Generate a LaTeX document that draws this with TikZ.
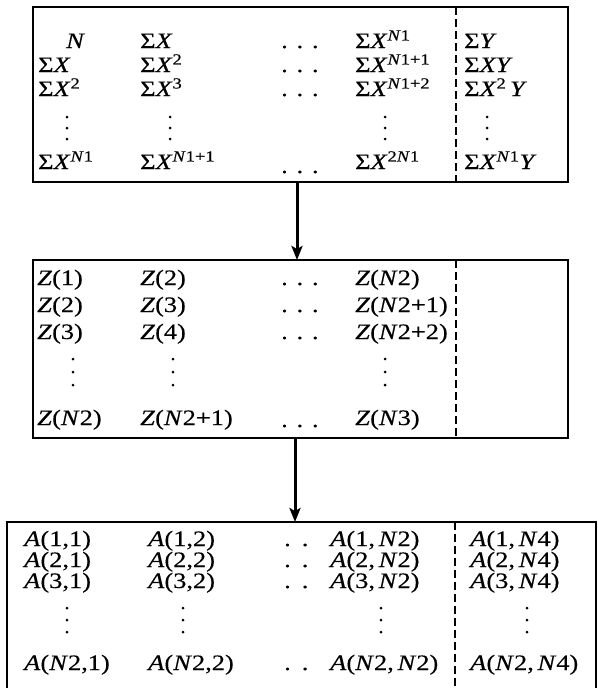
\documentclass[tikz,border=0pt]{standalone}
\usepackage{fontspec}
\setmainfont{Liberation Serif}[FakeStretch=1.2,FakeBold=0.4]
\usetikzlibrary{arrows.meta}
\newcommand{\ix}[1]{\textit{#1}}
\newcommand{\sux}[1]{\textsuperscript{#1}}
\tikzset{
  frame/.style={draw, line width=1.4pt, inner sep=0pt, outer sep=0pt},
  blank/.style={inner sep=0pt, outer sep=0pt},
  sep/.style={line width=1.2pt, dash pattern=on 8pt off 4pt},
  cell/.style={anchor=base west, inner sep=0pt},
  vdot/.style={fill, circle, inner sep=0pt, minimum size=3pt},
  flow/.style={line width=3pt, -{Stealth[length=14pt,width=11pt,inset=3pt]}}
}
\begin{document}
\begin{tikzpicture}[x=1pt,y=-1pt,font=\fontsize{22pt}{26pt}\selectfont]
\useasboundingbox (0,0) rectangle (597,688);
\clip (0,0) rectangle (597,688);
% boxes
\node[frame, minimum width=535pt, minimum height=175pt, anchor=north west] (b1) at (33,7) {};
\node[frame, minimum width=535pt, minimum height=178pt, anchor=north west] (b2) at (33,260) {};
\node[blank, minimum width=589pt, minimum height=200pt, anchor=north west] (b3) at (7,522) {};
\draw[line width=1.4pt] (b3.south west) -- (b3.north west) -- (b3.north east) -- (b3.south east);
% separators
\draw[sep] ([xshift=423pt]b1.north west) -- ([xshift=423pt]b1.south west);
\draw[sep] ([xshift=423pt]b2.north west) -- ([xshift=423pt]b2.south west);
\draw[sep] ([xshift=448pt]b3.north west) -- ([xshift=448pt]b3.south west);
% arrows
\draw[flow] ([xshift=-3.5pt]b1.south) -- ([xshift=-3.5pt]b2.north);
\draw[flow] ([xshift=-5.5pt]b2.south) -- ([xshift=-5.5pt]b2.south |- b3.north);
% vertical ellipses
\foreach \x/\y/\s [count=\i] in {67/128/11,170/128/11,385/128/11,487/128/11,
                                 73/372/13,173/372/13,385/372/13,
                                 67/620/12,183/620/12,381/620/12,527/620/12}
  \foreach \k in {-1,0,1}
    \node[vdot] (vd\i-\k) at (\x,\y+\k*\s) {};
% box 1
\node[cell] (p11) at (66,48) {\ix{N}};
\node[cell] (p12) at (140,48) {Σ\ix{X}};
\node[cell] (p13) at (281,48) {. . .};
\node[cell] (p14) at (355,48) {Σ\ix{X}\sux{\ix{N}1}};
\node[cell] (p15) at (464,48) {Σ\ix{Y}};
\node[cell] (p21) at (38,72) {Σ\ix{X}};
\node[cell] (p22) at (140,72) {Σ\ix{X}\sux{2}};
\node[cell] (p23) at (281,72) {. . .};
\node[cell] (p24) at (355,72) {Σ\ix{X}\sux{\ix{N}1+1}};
\node[cell] (p25) at (464,72) {Σ\ix{XY}};
\node[cell] (p31) at (38,96) {Σ\ix{X}\sux{2}};
\node[cell] (p32) at (140,96) {Σ\ix{X}\sux{3}};
\node[cell] (p33) at (281,96) {. . .};
\node[cell] (p34) at (355,96) {Σ\ix{X}\sux{\ix{N}1+2}};
\node[cell] (p35) at (464,96) {Σ\ix{X}\sux{2}\,\ix{Y}};
\node[cell] (pl1) at (38,169) {Σ\ix{X}\sux{\ix{N}1}};
\node[cell] (pl2) at (140,169) {Σ\ix{X}\sux{\ix{N}1+1}};
\node[cell] (pl3) at (281,173) {. . .};
\node[cell] (pl4) at (355,169) {Σ\ix{X}\sux{2\ix{N}1}};
\node[cell] (pl5) at (464,169) {Σ\ix{X}\sux{\ix{N}1}\ix{Y}};
% box 2
\node[cell] (z11) at (37,285) {\ix{Z}(1)};
\node[cell] (z12) at (140,285) {\ix{Z}(2)};
\node[cell] (z13) at (281,285) {. . .};
\node[cell] (z14) at (355,285) {\ix{Z}(\ix{N}2)};
\node[cell] (z21) at (37,312) {\ix{Z}(2)};
\node[cell] (z22) at (140,312) {\ix{Z}(3)};
\node[cell] (z23) at (281,312) {. . .};
\node[cell] (z24) at (355,312) {\ix{Z}(\ix{N}2+1)};
\node[cell] (z31) at (37,339) {\ix{Z}(3)};
\node[cell] (z32) at (140,339) {\ix{Z}(4)};
\node[cell] (z33) at (281,339) {. . .};
\node[cell] (z34) at (355,339) {\ix{Z}(\ix{N}2+2)};
\node[cell] (zl1) at (37,425) {\ix{Z}(\ix{N}2)};
\node[cell] (zl2) at (140,425) {\ix{Z}(\ix{N}2+1)};
\node[cell] (zl3) at (281,427) {. . .};
\node[cell] (zl4) at (355,425) {\ix{Z}(\ix{N}3)};
% box 3
\node[cell] (a11) at (24,546) {\ix{A}(1,1)};
\node[cell] (a12) at (148,546) {\ix{A}(1,2)};
\node[cell] (a13) at (284,546) {.\hspace{11pt}.};
\node[cell] (a14) at (330,546) {\ix{A}(1,\,\ix{N}2)};
\node[cell] (a15) at (470,546) {\ix{A}(1,\,\ix{N}4)};
\node[cell] (a21) at (24,567) {\ix{A}(2,1)};
\node[cell] (a22) at (148,567) {\ix{A}(2,2)};
\node[cell] (a23) at (284,567) {.\hspace{11pt}.};
\node[cell] (a24) at (330,567) {\ix{A}(2,\,\ix{N}2)};
\node[cell] (a25) at (470,567) {\ix{A}(2,\,\ix{N}4)};
\node[cell] (a31) at (24,588) {\ix{A}(3,1)};
\node[cell] (a32) at (148,588) {\ix{A}(3,2)};
\node[cell] (a33) at (284,588) {.\hspace{11pt}.};
\node[cell] (a34) at (330,588) {\ix{A}(3,\,\ix{N}2)};
\node[cell] (a35) at (470,588) {\ix{A}(3,\,\ix{N}4)};
\node[cell] (al1) at (24,670) {\ix{A}(\ix{N}2,1)};
\node[cell] (al2) at (148,670) {\ix{A}(\ix{N}2,2)};
\node[cell] (al3) at (284,670) {.\hspace{11pt}.};
\node[cell] (al4) at (330,670) {\ix{A}(\ix{N}2,\,\ix{N}2)};
\node[cell] (al5) at (470,670) {\ix{A}(\ix{N}2,\,\ix{N}4)};
\end{tikzpicture}
\end{document}
